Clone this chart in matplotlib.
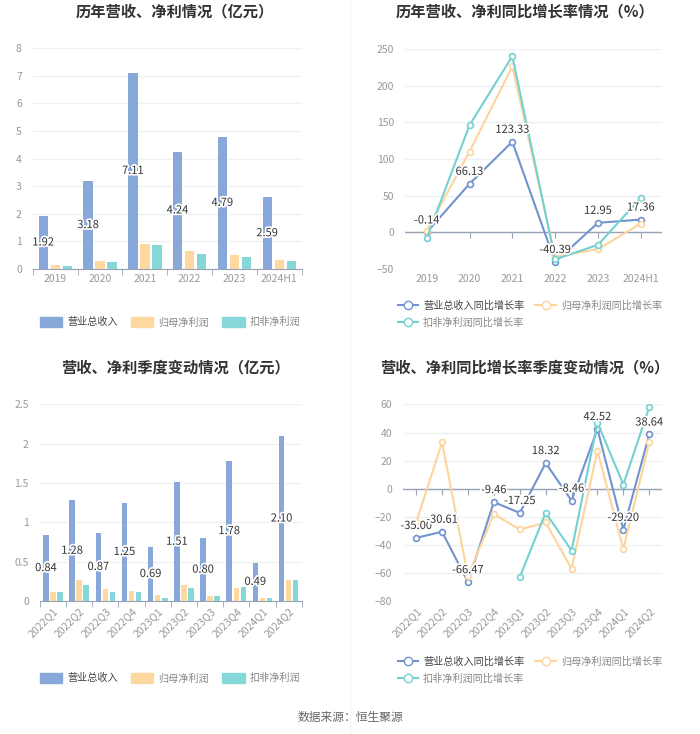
import numpy as np
import matplotlib
matplotlib.use("Agg")
from matplotlib import pyplot as plt
from matplotlib.lines import Line2D
from matplotlib.patches import Patch
import matplotlib.patheffects as pe

plt.rcParams['font.family'] = ['Noto Sans CJK SC', 'DejaVu Sans']

# dane roczne
years = ['2019', '2020', '2021', '2022', '2023', '2024H1']
rev_y = [1.92, 3.18, 7.11, 4.24, 4.79, 2.59]
np_y = [0.13, 0.28, 0.90, 0.66, 0.50, 0.32]
dnp_y = [0.10, 0.27, 0.87, 0.54, 0.45, 0.30]

rev_g_y = [-0.14, 66.13, 123.33, -40.39, 12.95, 17.36]
np_g_y = [2, 110, 226, -33, -23, 12]
dnp_g_y = [-8, 146, 240, -37, -17, 47]

# dane kwartalne
quarters = ['2022Q1', '2022Q2', '2022Q3', '2022Q4', '2023Q1', '2023Q2', '2023Q3', '2023Q4', '2024Q1', '2024Q2']
rev_q = [0.84, 1.28, 0.87, 1.25, 0.69, 1.51, 0.80, 1.78, 0.49, 2.10]
np_q = [0.11, 0.27, 0.15, 0.13, 0.08, 0.21, 0.06, 0.17, 0.04, 0.27]
dnp_q = [0.11, 0.21, 0.11, 0.12, 0.04, 0.17, 0.06, 0.18, 0.04, 0.27]

rev_g_q = [-35.00, -30.61, -66.47, -9.46, -17.25, 18.32, -8.46, 42.52, -29.20, 38.64]
np_g_q = [-24, 33, -62, -18, -29, -24, -57, 27, -43, 33]
dnp_g_q = [None, None, None, None, -63, -17, -44, 47, 3, 58]

C_REV = '#88a8da'
C_NP = '#fdd9a1'
C_DNP = '#86d8d8'
L_REV = '#7194cf'
L_NP = '#fdd59c'
L_DNP = '#74d1d2'
GRID = '#eef0f4'
TICK = '#999999'
AXC = '#9aa3b5'

fig = plt.figure(figsize=(7, 7.34), dpi=100)
stroke = [pe.withStroke(linewidth=2.5, foreground='white')]


def style_axis(ax):
    for s in ['top', 'right', 'left']:
        ax.spines[s].set_visible(False)
    ax.spines['bottom'].set_color(AXC)
    ax.grid(axis='y', color=GRID, linewidth=1)
    ax.set_axisbelow(True)
    ax.tick_params(axis='y', length=0, colors=TICK, labelsize=7.5, pad=8)
    ax.tick_params(axis='x', colors=TICK, labelsize=7.5, color=AXC, length=4)


def bar_chart(ax, cats, rev, npr, dnp, ymax, yticks, ylabels, rotate):
    x = np.arange(len(cats))
    w = 0.21
    ax.bar(x - 0.27, rev, w, color=C_REV)
    ax.bar(x, npr, w, color=C_NP)
    ax.bar(x + 0.27, dnp, w, color=C_DNP)
    for xi, v in zip(x, rev):
        ax.text(xi - 0.27, v / 2, '%.2f' % v, ha='center', va='center', fontsize=8,
                color='#333333', path_effects=stroke)
    ax.set_xlim(-0.5, len(cats) - 0.5)
    ax.set_ylim(0, ymax)
    ax.set_yticks(yticks)
    ax.set_yticklabels(ylabels)
    style_axis(ax)
    ax.set_xticks(x)
    ax.set_xticks(np.arange(len(cats) + 1) - 0.5, minor=True)
    ax.tick_params(axis='x', which='major', length=0)
    ax.tick_params(axis='x', which='minor', length=4, color=AXC)
    if rotate:
        ax.set_xticklabels(cats, rotation=45, ha='right', rotation_mode='anchor')
    else:
        ax.set_xticklabels(cats)


def line_chart(ax, cats, series, ylim, yticks, labels_vals):
    x = np.arange(len(cats))
    for vals, col in series:
        v = np.array([np.nan if a is None else a for a in vals], dtype=float)
        ax.plot(x, v, color=col, linewidth=1.5, marker='o', markersize=4.2,
                markerfacecolor='white', markeredgecolor=col, markeredgewidth=1.2, zorder=3)
    for xi, v in zip(x, labels_vals):
        ax.annotate('%.2f' % v, (xi, v), xytext=(0, 5), textcoords='offset points',
                    ha='center', va='bottom', fontsize=8, color='#333333',
                    path_effects=stroke, zorder=5)
    ax.axhline(0, color=AXC, linewidth=1, zorder=2)
    ax.plot(x, np.zeros(len(x)), linestyle='none', marker=3, markersize=4,
            color=AXC, markeredgewidth=0.8, zorder=2)
    ax.set_xlim(-0.5, len(cats) - 0.5)
    ax.set_ylim(*ylim)
    ax.set_yticks(yticks)
    style_axis(ax)
    ax.spines['bottom'].set_visible(False)
    ax.set_xticks(x)
    ax.tick_params(axis='x', length=0)


# wykres 1
ax1 = fig.add_axes([0.047, 0.6335, 0.384, 0.301])
bar_chart(ax1, years, rev_y, np_y, dnp_y, 8, range(0, 9), [str(i) for i in range(0, 9)], False)

# wykres 2
ax2 = fig.add_axes([0.579, 0.6335, 0.367, 0.300])
line_chart(ax2, years, [(rev_g_y, L_REV), (np_g_y, L_NP), (dnp_g_y, L_DNP)],
           (-50, 250), range(-50, 251, 50), rev_g_y)
ax2.set_xticklabels(years)

# wykres 3
ax3 = fig.add_axes([0.057, 0.181, 0.374, 0.268])
bar_chart(ax3, quarters, rev_q, np_q, dnp_q, 2.5, [0, 0.5, 1, 1.5, 2, 2.5],
          ['0', '0.5', '1', '1.5', '2', '2.5'], True)

# wykres 4
ax4 = fig.add_axes([0.576, 0.181, 0.370, 0.268])
line_chart(ax4, quarters, [(rev_g_q, L_REV), (np_g_q, L_NP), (dnp_g_q, L_DNP)],
           (-80, 60), range(-80, 61, 20), rev_g_q)
ax4.set_xticklabels(quarters, rotation=45, ha='right', rotation_mode='anchor')

# tytuly
tkw = dict(ha='center', va='center', fontsize=11, fontweight='bold', color='#333333')
fig.text(0.25, 0.984, '历年营收、净利情况（亿元）', **tkw)
fig.text(0.75, 0.984, '历年营收、净利同比增长率情况（%）', **tkw)
fig.text(0.25, 0.500, '营收、净利季度变动情况（亿元）', **tkw)
fig.text(0.75, 0.500, '营收、净利同比增长率季度变动情况（%）', **tkw)

# legendy
bar_handles = [Patch(color=C_REV), Patch(color=C_NP), Patch(color=C_DNP)]
bar_names = ['营业总收入', '归母净利润', '扣非净利润']
line_handles = [Line2D([], [], color=c, marker='o', markersize=6, markerfacecolor='white',
                       markeredgecolor=c, linewidth=1.5) for c in (L_REV, L_NP, L_DNP)]
line_names = ['营业总收入同比增长率', '归母净利润同比增长率', '扣非净利润同比增长率']

for cy in (0.561, 0.076):
    lg = fig.legend(bar_handles, bar_names, loc='center', bbox_to_anchor=(0.243, cy), ncol=3,
                    frameon=False, fontsize=7.3, handlelength=2.2, handleheight=1.1,
                    columnspacing=1.3, handletextpad=0.5)
    for i, t in enumerate(lg.get_texts()):
        t.set_color('#444444' if i == 0 else '#888888')

for cy in (0.572, 0.087):
    lh = [line_handles[0], line_handles[2], line_handles[1]]
    ln = [line_names[0], line_names[2], line_names[1]]
    lg = fig.legend(lh, ln, loc='center', bbox_to_anchor=(0.757, cy), ncol=2,
                    frameon=False, fontsize=7.3, handlelength=2.0, columnspacing=1.1,
                    handletextpad=0.5, labelspacing=0.7)
    for t in lg.get_texts():
        t.set_color('#444444' if t.get_text() == line_names[0] else '#888888')

# linia podzialu
fig.add_artist(Line2D([0.5, 0.5], [0.0, 1.0], color='#f5f5f5', linewidth=1))

fig.text(0.5, 0.022, '数据来源：恒生聚源', ha='center', va='center', fontsize=8.5, color='#666666')

fig.savefig('out.png', dpi=100, facecolor='white')
